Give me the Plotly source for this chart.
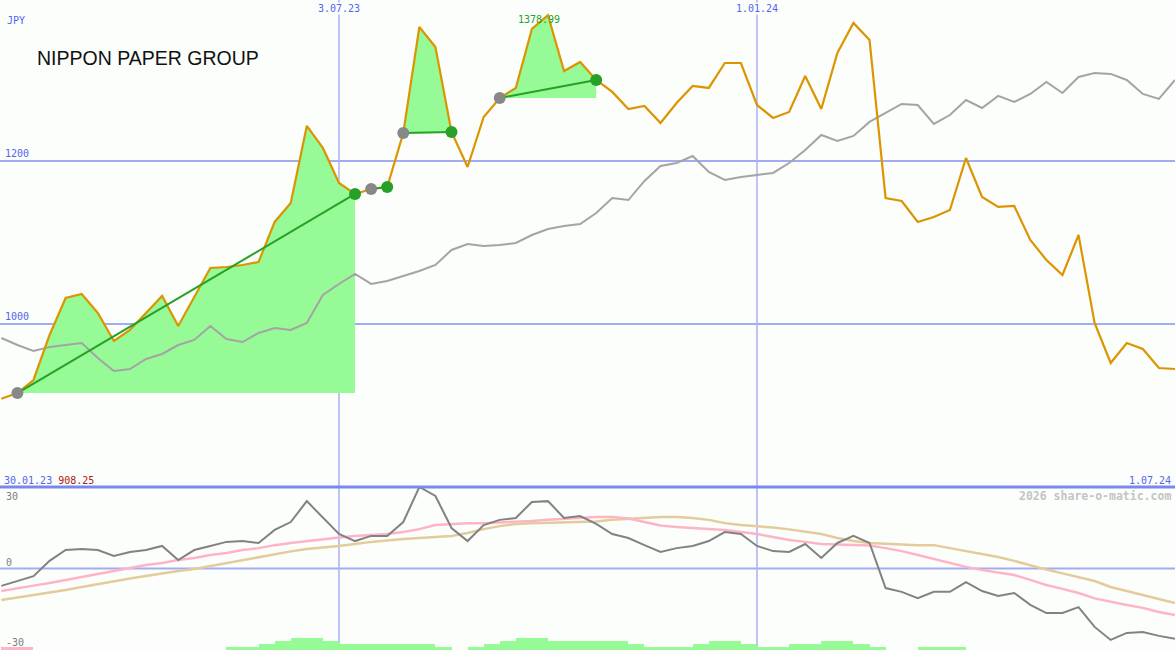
import pandas as pd
import plotly.graph_objects as go

# ---------------- data ----------------
start_date = "2023-02-06"
n_weeks = 74
dates = pd.date_range(start_date, periods=n_weeks, freq="7D")

price = [908.25, 915.3, 931.3, 986.5, 1031.9, 1036.8, 1013.5, 979.1, 992.6, 1013.5,
         1034.4, 997.5, 1033.1, 1068.7, 1069.9, 1072.4, 1076.1, 1125.2, 1148.5, 1243.0,
         1216.0, 1173.0, 1159.5, 1165.6, 1168.1, 1234.4, 1364.4, 1339.9, 1235.6, 1192.6,
         1254.0, 1277.3, 1289.6, 1362.0, 1378.99, 1310.4, 1321.5, 1299.4, 1284.7, 1263.8,
         1267.5, 1246.6, 1271.2, 1292.0, 1289.6, 1320.2, 1320.2, 1268.7, 1252.8, 1260.1,
         1304.3, 1263.8, 1332.5, 1369.3, 1348.5, 1154.6, 1150.9, 1125.2, 1131.3, 1139.9,
         1203.7, 1155.8, 1143.6, 1144.8, 1103.1, 1078.5, 1060.1, 1109.2, 1001.2, 952.1,
         976.7, 969.3, 946.0, 944.8]

benchmark = [982.8, 974.2, 966.9, 971.8, 974.2, 976.7, 958.3, 942.3, 944.8, 957.1,
             963.2, 974.2, 980.4, 997.5, 981.6, 977.9, 989.0, 995.1, 992.6, 1001.2,
             1035.6, 1049.1, 1061.3, 1049.1, 1052.8, 1058.9, 1065.0, 1072.4, 1090.8, 1098.2,
             1095.7, 1096.9, 1099.4, 1109.2, 1116.6, 1120.2, 1122.7, 1136.2, 1154.6, 1152.1,
             1175.5, 1193.9, 1197.5, 1206.1, 1186.5, 1176.7, 1180.4, 1182.8, 1185.3, 1197.5,
             1213.5, 1231.9, 1224.5, 1230.7, 1247.9, 1258.9, 1269.9, 1268.7, 1245.4, 1256.4,
             1274.8, 1265.0, 1279.8, 1272.4, 1282.2, 1296.9, 1283.4, 1303.1, 1308.0, 1306.8,
             1299.4, 1282.2, 1276.1, 1299.4]

momentum = [-6.4, -4.6, -2.8, 2.8, 6.8, 7.2, 6.8, 4.6, 6.1, 6.8,
            8.3, 3.1, 6.8, 8.3, 9.8, 10.1, 9.4, 14.2, 17.1, 24.8,
            18.6, 12.7, 10.1, 12.0, 12.0, 17.1, 30.0, 26.7, 14.9, 10.1,
            16.0, 17.9, 18.6, 24.5, 24.8, 18.6, 19.3, 16.4, 12.7, 11.2,
            8.6, 6.1, 7.5, 8.3, 10.1, 13.4, 12.7, 8.3, 6.4, 6.1,
            9.0, 3.9, 9.4, 12.0, 9.4, -7.2, -8.6, -10.9, -8.6, -8.6,
            -5.0, -8.3, -10.1, -9.0, -13.4, -16.4, -16.4, -14.2, -21.5, -26.3,
            -23.7, -23.4, -24.8, -25.9]

avg_fast = [-8.3, -7.2, -6.3, -5.3, -4.2, -3.1, -2.0, -0.9, 0.2, 1.3,
            2.0, 3.1, 3.9, 5.0, 5.7, 6.8, 7.5, 8.6, 9.4, 10.1,
            10.9, 11.4, 12.0, 12.3, 12.7, 13.4, 14.5, 16.0, 16.4, 16.7,
            16.7, 16.9, 17.1, 17.5, 17.9, 18.2, 18.6, 19.0, 19.0, 18.4,
            17.1, 15.8, 15.3, 14.9, 14.5, 14.2, 13.4, 12.7, 11.6, 10.5,
            9.8, 9.0, 8.8, 8.6, 8.5, 7.5, 6.4, 5.0, 3.5, 2.0,
            0.6, -0.6, -1.5, -2.4, -4.2, -6.1, -7.5, -9.0, -11.0, -12.3,
            -13.4, -14.5, -16.0, -17.1]

avg_slow = [-11.6, -10.7, -9.8, -8.8, -7.9, -6.8, -5.7, -4.6, -3.7, -2.8,
            -1.8, -0.9, -0.2, 0.9, 2.0, 3.1, 4.2, 5.3, 6.3, 7.2,
            7.7, 8.3, 9.0, 9.8, 10.3, 10.9, 11.2, 11.6, 12.0, 13.1,
            14.5, 15.6, 16.4, 16.7, 16.9, 17.1, 17.1, 17.3, 17.9, 18.2,
            18.6, 19.0, 19.0, 18.6, 17.9, 16.7, 16.0, 15.6, 15.1, 14.4,
            13.6, 12.7, 11.2, 10.1, 9.4, 9.0, 8.8, 8.6, 8.6, 7.5,
            6.4, 5.3, 4.2, 2.8, 1.1, -0.4, -1.8, -3.3, -4.6, -6.8,
            -8.3, -9.8, -11.2, -12.7]

strength = [-1.1, -1.1, 0, 0, 0, 0, 0, 0, 0, 0,
            0, 0, 0, 0, 1.1, 1.1, 2.2, 3.3, 4.4, 4.4,
            3.3, 2.2, 2.2, 2.2, 2.2, 2.2, 2.2, 1.1, 0, 1.1,
            2.2, 3.3, 4.4, 4.4, 3.3, 3.3, 3.3, 3.3, 3.3, 2.2,
            1.1, 1.1, 1.1, 2.2, 3.3, 3.3, 2.2, 1.1, 1.1, 2.2,
            2.2, 3.3, 3.3, 2.2, 1.1, 0, 0, 1.1, 1.1, 1.1,
            0, 0, 0, 0, 0, 0, 0, 0, 0, 0,
            0, 0, 0, 0]

# trend segments (start week index, end week index)
trend_segments = [(1, 22), (23, 24), (25, 28), (31, 37)]

title_text = "NIPPON PAPER GROUP"
currency = "JPY"
price_ticks = [1000, 1200]
osc_ticks = [30, 0, -30]
vline_dates = ["2023-07-03", "2024-01-01"]
vline_labels = ["3.07.23", "1.01.24"]
start_label = "30.01.23"
end_label = "1.07.24"
watermark = "2026 share-o-matic.com"

# ---------------- style ----------------
W, H = 1175, 650
BG = "#fbfefb"
GRID = "#a3acf2"
VGRID = "#aab2f2"
SEP = "#7a88ee"
LBL = "#5464f0"
ORANGE = "#dc9500"
BENCH = "#a4a4a4"
MOM = "#828282"
PINK = "#ffb4c6"
TAN = "#e3cb9c"
FILL = "#96fa96"
GREEN = "#26a026"
MONO = "DejaVu Sans Mono"

sep_frac = 163 / H  # bottom panel height fraction

fig = go.Figure()

# trend fills
for s, e in trend_segments:
    xs = list(dates[s:e + 1])
    fig.add_trace(go.Scatter(x=xs, y=[price[s]] * len(xs), mode="lines",
                             line=dict(width=0, color=FILL), hoverinfo="skip",
                             showlegend=False, xaxis="x", yaxis="y"))
    fig.add_trace(go.Scatter(x=xs, y=price[s:e + 1], mode="lines",
                             line=dict(width=0, color=FILL), fill="tonexty",
                             fillcolor=FILL, hoverinfo="skip", showlegend=False,
                             xaxis="x", yaxis="y"))

# benchmark
fig.add_trace(go.Scatter(x=dates, y=benchmark, mode="lines",
                         line=dict(color=BENCH, width=2), showlegend=False,
                         xaxis="x", yaxis="y"))
# price
fig.add_trace(go.Scatter(x=dates, y=price, mode="lines",
                         line=dict(color=ORANGE, width=2.2), showlegend=False,
                         xaxis="x", yaxis="y"))

# trend lines and markers
for s, e in trend_segments:
    fig.add_trace(go.Scatter(x=[dates[s], dates[e]], y=[price[s], price[e]], mode="lines",
                             line=dict(color=GREEN, width=2), showlegend=False,
                             xaxis="x", yaxis="y"))
    fig.add_trace(go.Scatter(x=[dates[s]], y=[price[s]], mode="markers",
                             marker=dict(color="#888888", size=12), showlegend=False,
                             xaxis="x", yaxis="y"))
    fig.add_trace(go.Scatter(x=[dates[e]], y=[price[e]], mode="markers",
                             marker=dict(color=GREEN, size=12), showlegend=False,
                             xaxis="x", yaxis="y"))

# bottom panel bars
week_ms = 7 * 24 * 3600 * 1000
pos_x = [d for d, v in zip(dates, strength) if v > 0]
pos_y = [v for v in strength if v > 0]
neg_x = [d for d, v in zip(dates, strength) if v < 0]
neg_y = [-v for v in strength if v < 0]
fig.add_trace(go.Bar(x=pos_x, y=pos_y, base=-30, width=week_ms, offset=0,
                     marker=dict(color=FILL, line=dict(width=0)), showlegend=False,
                     xaxis="x2", yaxis="y2"))
fig.add_trace(go.Bar(x=neg_x, y=neg_y, base=-30, width=week_ms, offset=0,
                     marker=dict(color=PINK, line=dict(width=0)), showlegend=False,
                     xaxis="x2", yaxis="y2"))

fig.add_trace(go.Scatter(x=dates, y=avg_slow, mode="lines",
                         line=dict(color=TAN, width=2.5), showlegend=False,
                         xaxis="x2", yaxis="y2"))
fig.add_trace(go.Scatter(x=dates, y=avg_fast, mode="lines",
                         line=dict(color=PINK, width=2.5), showlegend=False,
                         xaxis="x2", yaxis="y2"))
fig.add_trace(go.Scatter(x=dates, y=momentum, mode="lines",
                         line=dict(color=MOM, width=2), showlegend=False,
                         xaxis="x2", yaxis="y2"))

xrange = ["2023-02-05 10:00", "2024-07-01"]
axis_common = dict(showgrid=False, zeroline=False, showticklabels=False,
                   ticks="", showline=False, fixedrange=True)

shapes = []
for v in price_ticks:
    shapes.append(dict(type="line", xref="paper", yref="y", x0=0, x1=1, y0=v, y1=v,
                       line=dict(color=GRID, width=2), layer="below"))
shapes.append(dict(type="line", xref="paper", yref="y2", x0=0, x1=1, y0=0, y1=0,
                   line=dict(color=GRID, width=2), layer="below"))
for d in vline_dates:
    shapes.append(dict(type="line", xref="x", yref="paper", x0=d, x1=d, y0=0, y1=1,
                       line=dict(color=VGRID, width=1.5), layer="below"))
shapes.append(dict(type="line", xref="paper", yref="paper", x0=0, x1=1,
                   y0=sep_frac, y1=sep_frac, line=dict(color=SEP, width=3), layer="above"))

def px(x):
    return x / W

def py(y):
    return 1 - y / H

ann = []
# vertical line labels
for d, t in zip(vline_dates, vline_labels):
    ann.append(dict(x=d, xref="x", y=py(8), yref="paper", text=t, showarrow=False,
                    font=dict(family=MONO, size=10, color=LBL), xanchor="center",
                    yanchor="middle", bgcolor=BG, borderpad=0))
ann.append(dict(x=px(5), y=py(20), xref="paper", yref="paper", text=currency, showarrow=False,
                font=dict(family=MONO, size=10, color=LBL), xanchor="left", yanchor="middle"))
for v in price_ticks:
    ann.append(dict(x=px(3), xref="paper", y=v, yref="y", yshift=7, text=str(v),
                    showarrow=False, font=dict(family=MONO, size=10, color=LBL),
                    xanchor="left", yanchor="middle"))
ann.append(dict(x=px(35), y=py(58), xref="paper", yref="paper", text=title_text,
                showarrow=False, font=dict(family="Liberation Sans", size=19.5, color="#111111"),
                xanchor="left", yanchor="middle"))
imax = price.index(max(price))
ann.append(dict(x=dates[imax], xref="x", y=max(price), yref="y", xshift=-9, yshift=-4,
                text=f"{max(price):.2f}", showarrow=False,
                font=dict(family=MONO, size=10, color=GREEN), xanchor="center", yanchor="middle"))
ann.append(dict(x=px(2), y=py(480), xref="paper", yref="paper",
                text=f"<span style='color:{LBL}'>{start_label}</span> "
                     f"<span style='color:#a82020'>{price[0]:.2f}</span>",
                showarrow=False, font=dict(family=MONO, size=10, color=LBL),
                xanchor="left", yanchor="middle"))
ann.append(dict(x=px(1173), y=py(480), xref="paper", yref="paper", text=end_label,
                showarrow=False, font=dict(family=MONO, size=10, color=LBL),
                xanchor="right", yanchor="middle"))
ann.append(dict(x=px(1173), y=py(496), xref="paper", yref="paper", text=f"<b>{watermark}</b>",
                showarrow=False, font=dict(family=MONO, size=11.5, color="#c4c4c4"),
                xanchor="right", yanchor="middle"))
osc_label_y = {30: 496, 0: 562, -30: 642}
for v in osc_ticks:
    ann.append(dict(x=px(4), y=py(osc_label_y[v]), xref="paper", yref="paper", text=str(v),
                    showarrow=False, font=dict(family=MONO, size=10, color="#808080"),
                    xanchor="left", yanchor="middle"))

fig.update_layout(
    width=W, height=H,
    margin=dict(l=0, r=0, t=0, b=0),
    paper_bgcolor=BG, plot_bgcolor=BG,
    showlegend=False,
    bargap=0,
    hovermode=False,
    xaxis=dict(range=xrange, type="date", anchor="y", **axis_common),
    yaxis=dict(range=[800, 1397.5], domain=[sep_frac, 1], anchor="x", **axis_common),
    xaxis2=dict(range=xrange, type="date", anchor="y2", **axis_common),
    yaxis2=dict(range=[-30, 30], domain=[0, sep_frac], anchor="x2", **axis_common),
    shapes=shapes,
    annotations=ann,
)

fig.write_html(
    "out.html",
    config={"displayModeBar": False, "staticPlot": True},
    post_script="document.body.style.margin='0px';document.body.style.overflow='hidden';"
                "document.body.style.background='" + BG + "';",
)
